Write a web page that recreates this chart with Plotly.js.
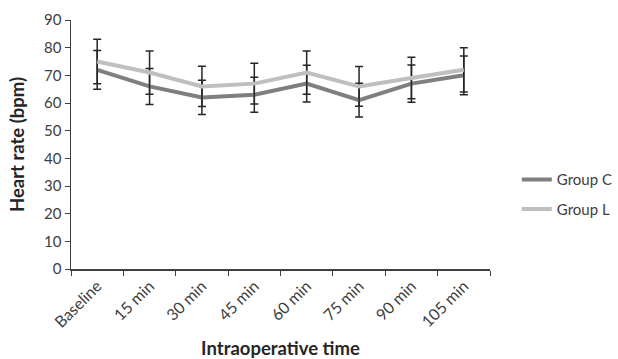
<!DOCTYPE html>
<html>
<head>
<meta charset="utf-8">
<script src="https://cdn.plot.ly/plotly-3.0.1.min.js"></script>
<style>html,body{margin:0;padding:0;background:#fff;}#chart{width:618px;height:359px;}</style>
</head>
<body>
<div id="chart"></div>
<script>
const categories = ["Baseline","15 min","30 min","45 min","60 min","75 min","90 min","105 min"];
const groupC = [72,66,62,63,67,61,67,70];
const sdC = [7,6.5,6.2,6.3,6.6,6.1,6.7,7];
const groupL = [75,71,66,67,71,66,69,72];
const sdL = [8,7.8,7.3,7.4,7.8,7.2,7.5,8];
const yTicks = [0,10,20,30,40,50,60,70,80,90];

const FONT = "Lato, 'Open Sans', sans-serif";
const errStyle = {type:"data", visible:true, color:"#262626", thickness:1.5, width:4};

const traces = [
  {x:categories, y:groupC, name:"Group C", type:"scatter", mode:"lines",
   line:{color:"#7f7f7f", width:4}, legendgroup:"c",
   error_y:Object.assign({array:sdC}, errStyle)},
  {x:categories, y:groupL, name:"Group L", type:"scatter", mode:"lines",
   line:{color:"#bfbfbf", width:4}, legendgroup:"l",
   error_y:Object.assign({array:sdL}, errStyle)}
];

const layout = {
  width:618, height:359,
  margin:{l:71, r:128, t:20, b:90, autoexpand:false},
  paper_bgcolor:"#fff", plot_bgcolor:"#fff",
  font:{family:FONT, color:"#404040", size:15},
  showlegend:true,
  legend:{x:1.064, xanchor:"left", y:0.30, yanchor:"middle",
          font:{family:FONT, size:15, color:"#404040"},
          traceorder:"grouped", tracegroupgap:7, bgcolor:"rgba(0,0,0,0)"},
  xaxis:{type:"category", range:[-0.5,7.5], tickson:"boundaries",
         ticks:"outside", ticklen:5, tickcolor:"#404040",
         showline:true, linecolor:"#404040", linewidth:1.5,
         showgrid:false, zeroline:false, tickangle:-45,
         tickfont:{family:FONT, size:16, color:"#404040"},
         title:{text:"<b>Intraoperative time</b>", standoff:15,
                font:{family:FONT, size:18.5, color:"#262626"}}},
  yaxis:{range:[0,90], tickvals:yTicks, ticks:"outside", ticklen:5, tickcolor:"#404040",
         showline:true, linecolor:"#404040", linewidth:1.5,
         showgrid:false, zeroline:false,
         tickfont:{family:FONT, size:15, color:"#404040"},
         title:{text:"<b>Heart rate (bpm)</b>", standoff:14,
                font:{family:FONT, size:18.5, color:"#262626"}}}
};

Plotly.newPlot("chart", traces, layout, {displayModeBar:false, staticPlot:true});
</script>
</body>
</html>
